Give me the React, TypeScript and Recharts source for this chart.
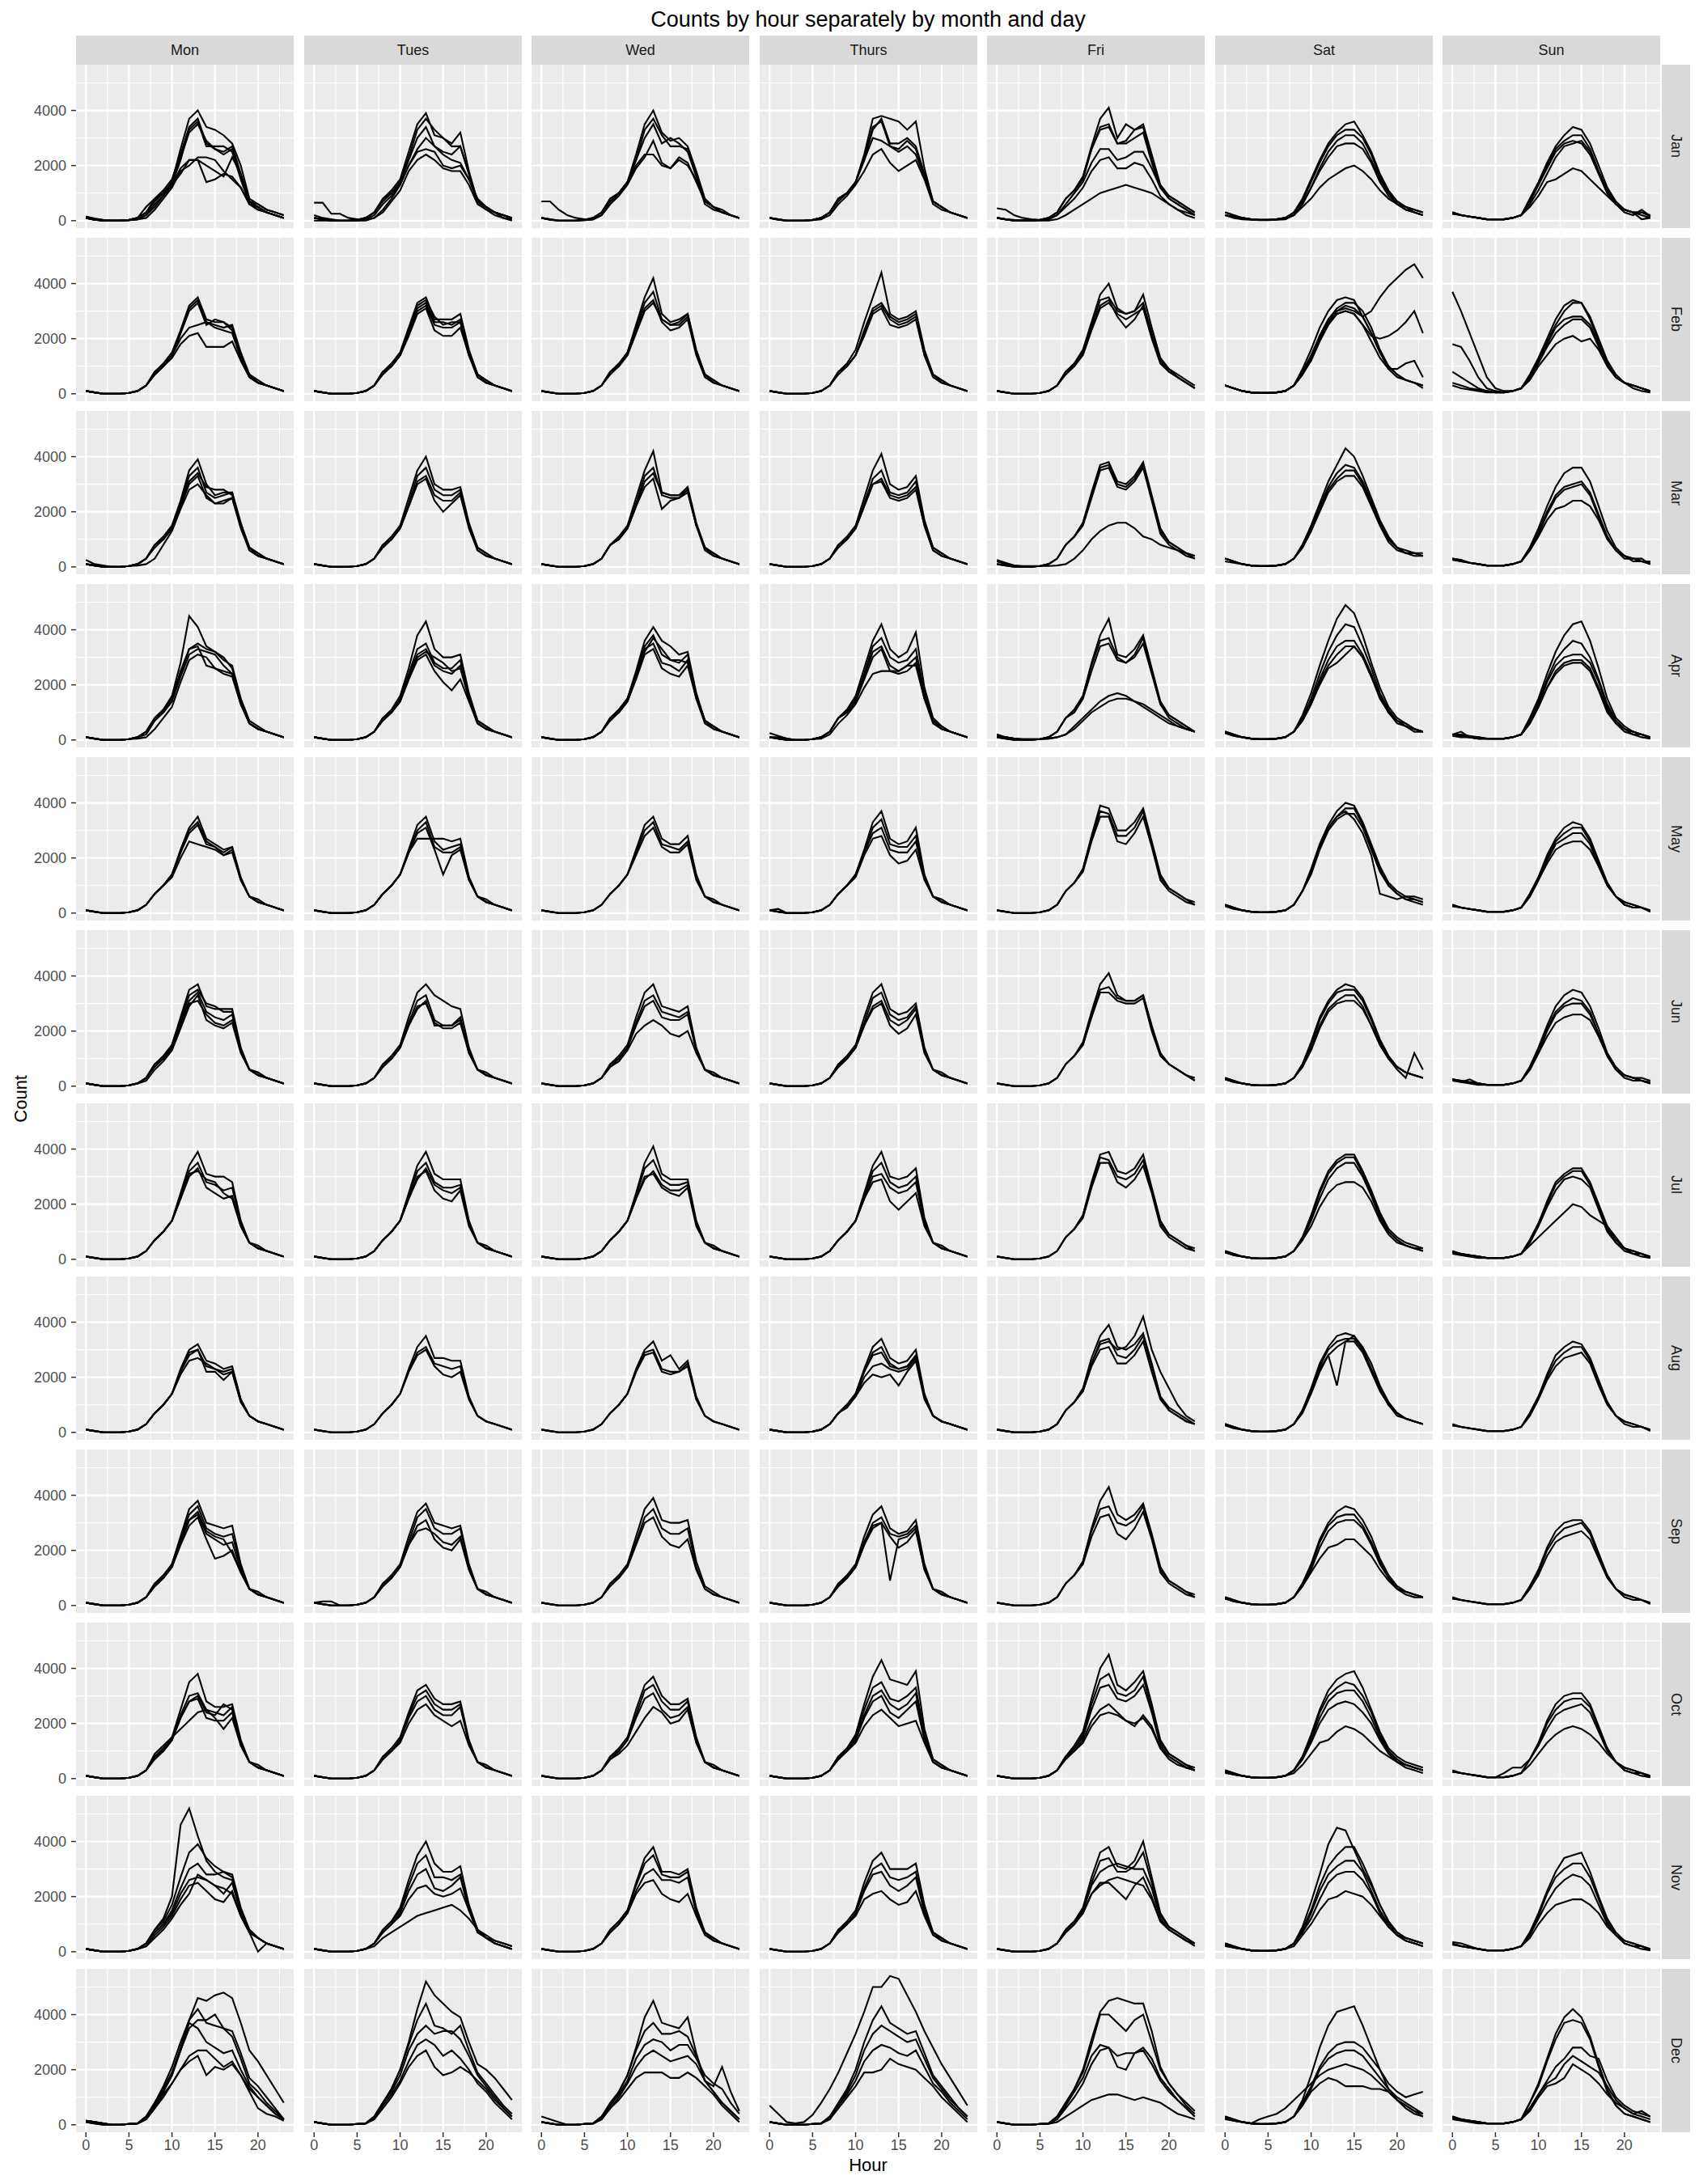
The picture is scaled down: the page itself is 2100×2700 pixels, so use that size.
import { CartesianGrid, Line, LineChart, XAxis, YAxis } from 'recharts';

const DAYS = ['Mon', 'Tues', 'Wed', 'Thurs', 'Fri', 'Sat', 'Sun'];
const MONTHS = ['Jan', 'Feb', 'Mar', 'Apr', 'May', 'Jun', 'Jul', 'Aug', 'Sep', 'Oct', 'Nov', 'Dec'];
const HOURS = [0, 1, 2, 3, 4, 5, 6, 7, 8, 9, 10, 11, 12, 13, 14, 15, 16, 17, 18, 19, 20, 21, 22, 23];
const X_TICKS = [0, 5, 10, 15, 20];
const X_MINOR = [2.5, 7.5, 12.5, 17.5, 22.5];
// y values are counts in hundreds
const Y_TICKS = [0, 20, 40];
const Y_MINOR = [10, 30, 50];

// hourly counts (hundreds), one list per date drawn; panels Mon..Sun
const JAN: number[][][] = [
  [
    [1.5, .8, .3, .1, .1, .3, 1, 3, 7, 10, 14, 26, 37, 40, 34, 33, 31, 28, 20, 8, 6, 4, 3, 2],
    [1.5, .5, .2, 0, 0, .3, 1, 5, 8, 11, 15, 24, 34, 37, 28, 26, 25, 27, 17, 7, 6, 4, 3, 2],
    [1, .5, .2, 0, 0, .3, 1, 3, 8, 10, 14, 23, 32, 35, 29, 26, 24, 26, 16, 7, 5, 3, 2, 1],
    [1, .3, .1, 0, 0, .2, 1, 3, 7, 10, 13, 22, 33, 36, 27, 27, 27, 25, 15, 6, 5, 3, 2, 1],
    [1, .3, 0, 0, 0, .2, .5, 2, 5, 9, 13, 17, 22, 22, 14, 15, 17, 16, 12, 6, 4, 3, 2, 1],
    [1, .3, 0, 0, 0, .2, .5, 1, 4, 8, 12, 18, 20, 23, 23, 22, 18, 15, 12, 6, 4, 3, 2, 1],
    [1, .3, 0, 0, 0, .2, .5, 2, 6, 9, 13, 19, 22, 22, 20, 18, 16, 23, 17, 7, 5, 3, 2, 1],
  ],
  [
    [1, .5, 0, 0, 0, .3, 1, 3, 8, 11, 15, 25, 35, 39, 31, 30, 28, 32, 18, 7, 5, 3, 2, 1],
    [1, .5, 0, 0, 0, .3, 1, 3, 7, 10, 14, 23, 33, 37, 33, 30, 27, 27, 17, 7, 5, 3, 2, 1],
    [6.5, 6.5, 2.5, 2.5, 1, .5, .5, 2, 6, 9, 13, 20, 25, 26, 25, 20, 19, 20, 15, 8, 5, 3, 2, 1],
    [2, 1, .5, 0, 0, 0, .5, 1, 4, 8, 13, 20, 26, 30, 27, 24, 22, 21, 15, 7, 4, 3, 1, .5],
    [1, .5, 0, 0, 0, .3, 1, 3, 8, 10, 14, 22, 30, 34, 27, 25, 24, 27, 17, 7, 5, 3, 2, 1],
    [0, 0, 0, 0, 0, 0, 0, 1, 3, 7, 11, 18, 22, 24, 22, 19, 18, 18, 13, 6, 4, 2, 1, 0],
  ],
  [
    [1, .5, 0, 0, 0, .3, 1, 3, 8, 10, 14, 24, 35, 40, 32, 29, 30, 27, 18, 8, 5, 4, 2, 1],
    [1, .5, 0, 0, 0, .3, 1, 3, 8, 10, 14, 22, 33, 37, 31, 27, 27, 26, 17, 7, 5, 3, 2, 1],
    [7, 7, 4, 2, 1, .5, .5, 2, 6, 10, 14, 20, 24, 24, 20, 19, 23, 21, 14, 7, 5, 3, 2, 1],
    [1, .3, 0, 0, 0, .2, .5, 2, 7, 10, 14, 22, 30, 35, 28, 30, 28, 25, 16, 6, 4, 3, 2, 1],
    [1, .3, 0, 0, 0, .2, .5, 2, 6, 9, 13, 19, 23, 29, 21, 19, 22, 20, 15, 7, 5, 3, 2, 1],
  ],
  [
    [1, .5, 0, 0, 0, .3, 1, 3, 8, 10, 14, 24, 37, 38, 37, 36, 33, 36, 19, 7, 5, 3, 2, 1],
    [1, .5, 0, 0, 0, .3, 1, 3, 8, 10, 14, 22, 33, 37, 28, 28, 30, 27, 17, 7, 5, 3, 2, 1],
    [1, .5, 0, 0, 0, .3, 1, 3, 8, 10, 14, 22, 30, 29, 27, 26, 29, 26, 16, 7, 5, 3, 2, 1],
    [1, .3, 0, 0, 0, .2, .5, 2, 6, 9, 13, 18, 24, 26, 21, 18, 20, 22, 15, 6, 4, 3, 2, 1],
    [1, .3, 0, 0, 0, .2, 1, 3, 7, 10, 14, 23, 34, 36, 27, 25, 27, 24, 16, 7, 5, 3, 2, 1],
  ],
  [
    [1, .5, 0, 0, 0, .3, 1, 3, 8, 11, 16, 27, 37, 41, 30, 35, 33, 35, 24, 13, 9, 7, 5, 3],
    [1, .5, 0, 0, 0, .3, 1, 3, 8, 11, 16, 26, 34, 35, 28, 29, 33, 34, 22, 12, 9, 7, 5, 3],
    [4.5, 4, 2, 1, .5, .3, .5, 2, 6, 10, 14, 21, 26, 26, 22, 23, 25, 25, 19, 12, 8, 6, 4, 2],
    [1, .5, 0, 0, 0, .2, .5, 2, 5, 8, 12, 18, 22, 23, 19, 19, 21, 20, 15, 9, 6, 4, 2, 1],
    [1, .5, .3, .2, 0, 0, 0, .5, 2, 4, 6, 8, 10, 11, 12, 13, 12, 11, 10, 8, 6, 4, 3, 2],
    [1, .5, 0, 0, 0, .3, 1, 3, 8, 11, 15, 26, 33, 34, 28, 28, 30, 32, 21, 12, 8, 6, 4, 2],
  ],
  [
    [3, 2, 1, .5, .3, .3, .5, 1, 3, 8, 15, 22, 28, 32, 35, 36, 31, 25, 17, 11, 7, 5, 4, 3],
    [3, 2, 1, .5, .3, .3, .5, 1, 3, 7, 14, 21, 27, 31, 33, 33, 30, 24, 16, 10, 7, 5, 4, 3],
    [2, 1.5, 1, .5, .3, .3, .5, 1, 2, 6, 12, 19, 25, 29, 31, 31, 28, 22, 15, 10, 6, 5, 3, 2],
    [2, 1.5, 1, .5, .3, .3, .5, 1, 2, 6, 12, 18, 23, 27, 28, 28, 26, 21, 14, 9, 6, 4, 3, 2],
    [2, 1, .5, .3, .2, .2, .3, .5, 2, 5, 8, 12, 15, 17, 19, 20, 18, 15, 11, 8, 6, 4, 3, 2],
  ],
  [
    [3, 2, 1.5, 1, .5, .5, .5, 1, 2, 8, 14, 21, 27, 31, 34, 33, 28, 20, 12, 7, 4, 3, 3, 2],
    [3, 2, 1.5, 1, .5, .5, .5, 1, 2, 7, 13, 20, 26, 29, 31, 31, 26, 18, 11, 6, 4, 3, 3, 1.5],
    [2.5, 2, 1.5, 1, .5, .5, .5, 1, 2, 7, 13, 19, 25, 28, 29, 28, 24, 17, 10, 6, 4, 3, .5, 1],
    [3, 2, 1.5, 1, .5, .5, .5, 1, 2, 6, 11, 17, 23, 27, 28, 29, 25, 17, 10, 6, 3, 2, 4, 1.5],
    [2.5, 2, 1.5, 1, .5, .5, .5, 1, 2, 5, 9, 14, 15, 17, 19, 18, 15, 12, 9, 6, 4, 3, 2, 1],
  ],
];

const FEB: number[][][] = [
  [
    [1, .5, 0, 0, 0, .3, 1, 3, 8, 11, 15, 23, 32, 35, 27, 26, 26, 24, 14, 7, 4, 3, 2, 1],
    [1, .5, 0, 0, 0, .3, 1, 3, 8, 10, 14, 22, 31, 34, 26, 25, 24, 25, 15, 7, 5, 3, 2, 1],
    [1, .5, 0, 0, 0, .3, 1, 3, 7, 10, 14, 22, 30, 33, 25, 27, 26, 23, 13, 6, 4, 3, 2, 1],
    [1, .5, 0, 0, 0, .3, 1, 3, 7, 10, 14, 20, 24, 25, 26, 24, 23, 22, 13, 6, 4, 3, 2, 1],
    [1, .5, 0, 0, 0, .3, 1, 3, 7, 10, 13, 18, 21, 22, 17, 17, 17, 19, 12, 6, 4, 3, 2, 1],
  ],
  [
    [1, .5, 0, 0, 0, .3, 1, 3, 8, 11, 15, 24, 33, 35, 27, 27, 27, 29, 16, 7, 5, 3, 2, 1],
    [1, .5, 0, 0, 0, .3, 1, 3, 8, 10, 14, 22, 31, 33, 26, 26, 25, 27, 15, 7, 4, 3, 2, 1],
    [1, .5, 0, 0, 0, .3, 1, 3, 8, 10, 14, 22, 30, 32, 25, 24, 24, 26, 14, 6, 4, 3, 2, 1],
    [1, .5, 0, 0, 0, .3, 1, 3, 7, 10, 14, 21, 29, 31, 23, 21, 21, 24, 14, 6, 4, 3, 2, 1],
    [1, .5, 0, 0, 0, .3, 1, 3, 8, 10, 14, 23, 32, 34, 28, 25, 26, 26, 15, 7, 5, 3, 2, 1],
  ],
  [
    [1, .5, 0, 0, 0, .3, 1, 3, 8, 11, 15, 25, 35, 42, 29, 26, 27, 29, 16, 7, 5, 3, 2, 1],
    [1, .5, 0, 0, 0, .3, 1, 3, 8, 10, 15, 24, 33, 37, 27, 25, 26, 29, 15, 7, 5, 3, 2, 1],
    [1, .5, 0, 0, 0, .3, 1, 3, 7, 10, 14, 23, 31, 34, 26, 23, 24, 27, 14, 6, 4, 3, 2, 1],
    [1, .5, 0, 0, 0, .3, 1, 3, 8, 10, 14, 22, 30, 33, 27, 25, 25, 28, 15, 7, 4, 3, 2, 1],
  ],
  [
    [1, .5, 0, 0, 0, .3, 1, 3, 8, 11, 16, 26, 35, 44, 29, 27, 28, 30, 16, 7, 5, 3, 2, 1],
    [1, .5, 0, 0, 0, .3, 1, 3, 8, 10, 14, 23, 31, 33, 28, 26, 27, 29, 15, 7, 5, 3, 2, 1],
    [1, .5, 0, 0, 0, .3, 1, 3, 8, 10, 14, 22, 30, 32, 27, 25, 26, 28, 14, 7, 4, 3, 2, 1],
    [1, .5, 0, 0, 0, .3, 1, 3, 7, 10, 14, 21, 29, 31, 25, 24, 25, 27, 14, 6, 4, 3, 2, 1],
  ],
  [
    [1, .5, 0, 0, 0, .3, 1, 3, 8, 11, 16, 26, 36, 40, 31, 29, 30, 36, 24, 13, 9, 7, 5, 3],
    [1, .5, 0, 0, 0, .3, 1, 3, 8, 11, 15, 25, 34, 35, 30, 29, 30, 33, 22, 12, 9, 6, 4, 2],
    [1, .5, 0, 0, 0, .3, 1, 3, 8, 10, 15, 24, 32, 34, 28, 24, 27, 32, 21, 12, 8, 6, 4, 2],
    [1, .5, 0, 0, 0, .3, 1, 3, 7, 10, 14, 23, 31, 33, 29, 27, 29, 31, 20, 11, 8, 6, 4, 2],
  ],
  [
    [3, 2, 1, .5, .3, .3, .5, 1, 3, 8, 14, 21, 27, 31, 33, 33, 30, 24, 16, 10, 7, 5, 4, 3],
    [3, 2, 1, .5, .3, .3, .5, 1, 3, 7, 13, 20, 26, 30, 32, 31, 28, 22, 15, 9, 6, 5, 4, 3],
    [3, 2, 1, .5, .3, .3, .5, 1, 3, 9, 16, 24, 30, 34, 35, 34, 28, 22, 15, 10, 7, 5, 4, 2],
    [3, 2, 1, .5, .3, .3, .5, 1, 3, 7, 13, 21, 27, 30, 31, 30, 28, 30, 35, 39, 42, 45, 47, 42],
    [3, 2, 1, .5, .3, .3, .5, 1, 3, 7, 13, 20, 26, 29, 30, 29, 25, 21, 20, 21, 23, 26, 30, 22],
    [3, 2, 1, .5, .3, .3, .5, 1, 3, 7, 12, 19, 25, 29, 30, 29, 25, 19, 13, 9, 9, 11, 12, 6],
  ],
  [
    [37, 30, 22, 14, 6, 2, 1, 1, 2, 7, 13, 20, 27, 32, 34, 33, 28, 20, 12, 7, 4, 3, 2, 1],
    [18, 17, 12, 6, 2, 1, .5, 1, 2, 6, 12, 18, 24, 27, 28, 28, 25, 18, 11, 6, 4, 3, 2, 1],
    [8, 6, 4, 2, 1, .5, .5, 1, 2, 6, 11, 17, 22, 25, 27, 27, 24, 17, 10, 6, 4, 3, 2, 1],
    [4, 3, 2, 1.5, 1, .5, .5, 1, 2, 6, 12, 19, 25, 30, 33, 33, 27, 19, 11, 6, 4, 3, 2, 1],
    [3, 2, 1.5, 1, .5, .5, .5, 1, 2, 5, 10, 14, 18, 20, 21, 19, 20, 16, 10, 6, 4, 2, 1, .5],
  ],
];

const MAR: number[][][] = [
  [
    [1, .5, 0, 0, 0, .3, 1, 3, 8, 11, 15, 24, 35, 39, 30, 26, 27, 27, 16, 7, 5, 3, 2, 1],
    [1, .5, 0, 0, 0, .3, 1, 3, 8, 10, 14, 23, 33, 36, 27, 25, 26, 27, 15, 7, 5, 3, 2, 1],
    [2.5, 1, .5, 0, 0, .3, 1, 3, 7, 10, 14, 22, 31, 34, 29, 28, 28, 26, 15, 7, 4, 3, 2, 1],
    [1, .5, 0, 0, 0, .3, .5, 1, 3, 8, 13, 21, 28, 30, 26, 23, 23, 25, 15, 6, 4, 3, 2, 1],
    [1, .5, 0, 0, 0, .3, 1, 3, 8, 10, 14, 22, 30, 33, 25, 23, 24, 25, 14, 6, 4, 3, 2, 1],
  ],
  [
    [1, .5, 0, 0, 0, .3, 1, 3, 8, 11, 15, 25, 35, 40, 30, 28, 28, 29, 16, 7, 5, 3, 2, 1],
    [1, .5, 0, 0, 0, .3, 1, 3, 8, 10, 14, 23, 33, 36, 28, 26, 26, 28, 15, 7, 5, 3, 2, 1],
    [1, .5, 0, 0, 0, .3, 1, 3, 8, 10, 14, 22, 31, 33, 26, 24, 24, 27, 15, 6, 4, 3, 2, 1],
    [1, .5, 0, 0, 0, .3, 1, 3, 7, 10, 14, 22, 30, 32, 24, 20, 23, 26, 14, 6, 4, 3, 2, 1],
  ],
  [
    [1, .5, 0, 0, 0, .3, 1, 3, 8, 11, 15, 25, 35, 42, 27, 26, 26, 29, 16, 7, 5, 3, 2, 1],
    [1, .5, 0, 0, 0, .3, 1, 3, 8, 10, 14, 23, 33, 36, 26, 25, 25, 28, 15, 7, 5, 3, 2, 1],
    [1, .5, 0, 0, 0, .3, 1, 3, 8, 10, 14, 22, 29, 32, 21, 24, 25, 27, 15, 6, 4, 3, 2, 1],
    [1, .5, 0, 0, 0, .3, 1, 3, 8, 10, 14, 22, 31, 34, 27, 26, 26, 28, 15, 7, 4, 3, 2, 1],
  ],
  [
    [1, .5, 0, 0, 0, .3, 1, 3, 8, 11, 15, 25, 35, 41, 30, 28, 29, 33, 17, 7, 5, 3, 2, 1],
    [1, .5, 0, 0, 0, .3, 1, 3, 8, 10, 14, 23, 32, 35, 27, 26, 27, 31, 16, 7, 5, 3, 2, 1],
    [1, .5, 0, 0, 0, .3, 1, 3, 8, 10, 14, 22, 30, 32, 26, 25, 26, 29, 15, 6, 4, 3, 2, 1],
    [1, .5, 0, 0, 0, .3, 1, 3, 7, 10, 14, 22, 30, 31, 25, 24, 25, 28, 15, 6, 4, 3, 2, 1],
  ],
  [
    [2.5, 1.5, .5, 0, 0, .3, 1, 3, 8, 11, 16, 27, 37, 38, 31, 30, 33, 38, 26, 14, 9, 7, 5, 4],
    [1, .5, 0, 0, 0, .3, 1, 3, 8, 11, 16, 26, 36, 37, 30, 29, 32, 37, 25, 13, 9, 7, 5, 3],
    [1, .5, 0, 0, 0, .3, 1, 3, 8, 11, 15, 25, 35, 36, 29, 28, 31, 36, 24, 12, 8, 6, 4, 3],
    [2, 1, .5, .3, .3, .3, .3, .5, 1, 3, 6, 10, 13, 15, 16, 16, 14, 11, 10, 8, 7, 6, 5, 4],
  ],
  [
    [3, 2, 1, .5, .3, .3, .5, 1, 3, 8, 15, 23, 31, 37, 43, 40, 33, 25, 17, 11, 7, 6, 5, 5],
    [3, 2, 1, .5, .3, .3, .5, 1, 3, 8, 14, 22, 29, 34, 37, 36, 31, 24, 16, 10, 7, 5, 5, 4],
    [3, 2, 1, .5, .3, .3, .5, 1, 3, 7, 13, 21, 28, 32, 35, 35, 30, 23, 16, 10, 7, 5, 5, 4],
    [2, 1.5, 1, .5, .3, .3, .5, 1, 3, 7, 13, 20, 27, 31, 33, 33, 29, 22, 15, 9, 6, 5, 4, 4],
  ],
  [
    [3, 2.5, 1.5, 1, .5, .5, .5, 1, 2, 7, 14, 22, 29, 34, 36, 36, 31, 22, 13, 7, 4, 3, 2, 2],
    [3, 2.5, 1.5, 1, .5, .5, .5, 1, 2, 7, 13, 20, 26, 29, 30, 31, 27, 19, 11, 6, 4, 3, 2, 1.5],
    [2.5, 2, 1.5, 1, .5, .5, .5, 1, 2, 6, 12, 19, 25, 28, 29, 30, 26, 18, 11, 6, 3, 3, 3, 1],
    [3, 2, 1.5, 1, .5, .5, .5, 1, 2, 6, 11, 17, 21, 22, 24, 24, 22, 17, 10, 6, 4, 2, 2, 1],
  ],
];

const APR: number[][][] = [
  [
    [1, .5, 0, 0, 0, .3, 1, 3, 8, 11, 16, 28, 45, 41, 34, 32, 29, 27, 15, 7, 5, 3, 2, 1],
    [1, .5, 0, 0, 0, .3, 1, 3, 8, 11, 15, 25, 33, 35, 33, 32, 30, 26, 14, 6, 4, 3, 2, 1],
    [1, .5, 0, 0, 0, .3, 1, 2, 7, 10, 14, 23, 31, 33, 32, 31, 27, 24, 13, 6, 4, 3, 2, 1],
    [1, .5, 0, 0, 0, .3, .5, 1, 4, 8, 12, 21, 29, 31, 30, 26, 24, 23, 13, 6, 4, 3, 2, 1],
    [1, .5, 0, 0, 0, .3, 1, 3, 8, 10, 14, 24, 33, 34, 27, 26, 25, 24, 14, 6, 4, 3, 2, 1],
  ],
  [
    [1, .5, 0, 0, 0, .3, 1, 3, 8, 11, 16, 26, 38, 43, 33, 30, 30, 31, 17, 7, 5, 3, 2, 1],
    [1, .5, 0, 0, 0, .3, 1, 3, 8, 10, 15, 24, 33, 35, 28, 26, 26, 29, 16, 7, 5, 3, 2, 1],
    [1, .5, 0, 0, 0, .3, 1, 3, 8, 10, 14, 23, 31, 33, 27, 25, 24, 27, 15, 6, 4, 3, 2, 1],
    [1, .5, 0, 0, 0, .3, 1, 3, 7, 10, 14, 22, 29, 31, 25, 21, 18, 22, 14, 6, 4, 3, 2, 1],
    [1, .5, 0, 0, 0, .3, 1, 3, 8, 10, 14, 22, 30, 32, 30, 28, 25, 26, 15, 6, 4, 3, 2, 1],
  ],
  [
    [1, .5, 0, 0, 0, .3, 1, 3, 8, 11, 15, 25, 36, 41, 36, 34, 31, 32, 17, 7, 5, 3, 2, 1],
    [1, .5, 0, 0, 0, .3, 1, 3, 8, 11, 15, 24, 34, 38, 31, 29, 28, 31, 16, 7, 5, 3, 2, 1],
    [1, .5, 0, 0, 0, .3, 1, 3, 8, 10, 14, 23, 33, 35, 28, 27, 25, 29, 15, 7, 4, 3, 2, 1],
    [1, .5, 0, 0, 0, .3, 1, 3, 7, 10, 14, 22, 31, 33, 26, 24, 23, 27, 15, 6, 4, 3, 2, 1],
    [1, .5, 0, 0, 0, .3, 1, 3, 8, 10, 14, 23, 32, 37, 33, 29, 29, 28, 16, 7, 5, 3, 2, 1],
  ],
  [
    [2.5, 1.5, .5, 0, 0, .3, 1, 3, 8, 11, 16, 26, 36, 42, 33, 30, 32, 39, 19, 8, 5, 3, 2, 1],
    [1, .5, 0, 0, 0, .3, 1, 3, 8, 11, 15, 24, 34, 37, 30, 28, 29, 33, 17, 7, 5, 3, 2, 1],
    [1, .5, 0, 0, 0, .3, 1, 3, 8, 10, 14, 23, 32, 34, 27, 25, 27, 30, 16, 7, 4, 3, 2, 1],
    [1, 1, .5, 0, 0, .3, .5, 2, 6, 9, 13, 19, 24, 25, 25, 25, 27, 27, 15, 7, 4, 3, 2, 1],
    [1, .5, 0, 0, 0, .3, 1, 3, 8, 10, 14, 22, 30, 33, 25, 24, 25, 28, 15, 6, 4, 3, 2, 1],
  ],
  [
    [2, 1, .5, 0, 0, .3, 1, 3, 8, 11, 16, 28, 38, 44, 31, 30, 33, 38, 26, 14, 9, 7, 5, 3],
    [1, .5, 0, 0, 0, .3, 1, 3, 8, 11, 16, 27, 36, 37, 30, 28, 31, 37, 25, 13, 9, 7, 5, 3],
    [1, .5, 0, 0, 0, .3, 1, 3, 8, 10, 15, 25, 34, 35, 29, 28, 30, 35, 24, 13, 8, 6, 4, 3],
    [2, 1, .5, .3, .3, .3, .5, 1, 2, 5, 8, 11, 14, 16, 17, 16, 14, 12, 10, 8, 6, 5, 4, 3],
    [1.5, 1, .5, .3, .3, .3, .5, 1, 2, 4, 7, 10, 12, 14, 15, 15, 14, 13, 11, 9, 7, 5, 4, 3],
  ],
  [
    [3, 2, 1, .5, .3, .3, .5, 1, 3, 9, 17, 27, 36, 44, 49, 46, 38, 28, 19, 12, 8, 6, 4, 3],
    [3, 2, 1, .5, .3, .3, .5, 1, 3, 8, 15, 24, 32, 38, 42, 41, 34, 26, 17, 11, 7, 6, 4, 3],
    [3, 2, 1, .5, .3, .3, .5, 1, 3, 8, 14, 22, 29, 34, 36, 36, 31, 24, 16, 10, 7, 5, 4, 3],
    [2.5, 1.5, 1, .5, .3, .3, .5, 1, 3, 7, 13, 20, 26, 28, 31, 34, 30, 23, 15, 10, 6, 5, 4, 3],
    [2.5, 1.5, 1, .5, .3, .3, .5, 1, 3, 7, 13, 21, 27, 31, 34, 34, 30, 23, 16, 10, 7, 5, 3, 3],
  ],
  [
    [2, 2, 1.5, 1, .5, .5, .5, 1, 2, 8, 15, 24, 32, 38, 42, 43, 36, 26, 15, 8, 5, 3, 2, 1],
    [2, 1.5, 1, 1, .5, .5, .5, 1, 2, 7, 14, 22, 29, 33, 36, 35, 30, 22, 13, 7, 4, 3, 2, 1],
    [2, 3, 1, .5, .5, .5, .5, 1, 2, 7, 13, 21, 27, 30, 31, 31, 28, 21, 12, 7, 4, 3, 2, 1],
    [2, 1.5, 1, .5, .5, .5, .5, 1, 2, 6, 12, 19, 25, 28, 29, 29, 26, 19, 11, 6, 4, 2, 2, 1],
    [1.5, 1, 1, .5, .5, .5, .5, 1, 2, 6, 12, 19, 24, 27, 28, 28, 25, 18, 10, 6, 3, 2, 1, .5],
  ],
];

const MAY: number[][][] = [
  [
    [1, .5, 0, 0, 0, .3, 1, 3, 7, 10, 14, 23, 31, 35, 27, 25, 23, 24, 13, 6, 5, 3, 2, 1],
    [1, .5, 0, 0, 0, .3, 1, 3, 7, 10, 14, 22, 30, 33, 26, 24, 22, 24, 12, 6, 4, 3, 2, 1],
    [1, .5, 0, 0, 0, .3, 1, 3, 7, 10, 14, 22, 29, 32, 25, 24, 21, 23, 12, 6, 4, 3, 2, 1],
    [1, .5, 0, 0, 0, .3, 1, 3, 7, 10, 13, 20, 26, 25, 24, 23, 21, 22, 12, 6, 4, 3, 2, 1],
  ],
  [
    [1, .5, 0, 0, 0, .3, 1, 3, 7, 10, 14, 23, 32, 35, 26, 23, 24, 25, 13, 6, 5, 3, 2, 1],
    [1, .5, 0, 0, 0, .3, 1, 3, 7, 10, 14, 22, 30, 33, 24, 22, 22, 24, 12, 6, 4, 3, 2, 1],
    [1, .5, 0, 0, 0, .3, 1, 3, 7, 10, 14, 22, 27, 27, 27, 27, 26, 27, 13, 6, 4, 3, 2, 1],
    [1, .5, 0, 0, 0, .3, 1, 3, 7, 10, 14, 22, 29, 31, 23, 14, 21, 23, 12, 6, 4, 3, 2, 1],
  ],
  [
    [1, .5, 0, 0, 0, .3, 1, 3, 7, 10, 14, 23, 32, 35, 27, 25, 25, 28, 14, 6, 5, 3, 2, 1],
    [1, .5, 0, 0, 0, .3, 1, 3, 7, 10, 14, 22, 30, 33, 25, 24, 23, 26, 13, 6, 4, 3, 2, 1],
    [1, .5, 0, 0, 0, .3, 1, 3, 7, 10, 14, 21, 28, 31, 24, 22, 22, 25, 12, 6, 4, 3, 2, 1],
  ],
  [
    [1, 1.5, 0, 0, 0, .3, 1, 3, 7, 10, 14, 23, 33, 37, 27, 25, 26, 31, 14, 6, 5, 3, 2, 1],
    [1, .5, 0, 0, 0, .3, 1, 3, 7, 10, 14, 22, 31, 34, 25, 24, 24, 28, 13, 6, 4, 3, 2, 1],
    [1, .5, 0, 0, 0, .3, 1, 3, 7, 10, 14, 22, 29, 31, 23, 22, 22, 26, 13, 6, 4, 3, 2, 1],
    [1, .5, 0, 0, 0, .3, 1, 3, 7, 10, 13, 21, 27, 28, 21, 18, 19, 23, 12, 6, 4, 3, 2, 1],
  ],
  [
    [1, .5, 0, 0, 0, .3, 1, 3, 8, 11, 16, 28, 39, 38, 30, 30, 33, 38, 26, 14, 9, 7, 5, 4],
    [1, .5, 0, 0, 0, .3, 1, 3, 8, 11, 16, 27, 37, 36, 28, 28, 31, 37, 25, 13, 9, 7, 5, 3],
    [1, .5, 0, 0, 0, .3, 1, 3, 8, 11, 15, 26, 35, 35, 26, 25, 29, 35, 24, 12, 8, 6, 4, 3],
  ],
  [
    [3, 2, 1, .5, .3, .3, .5, 1, 3, 8, 16, 25, 32, 37, 40, 39, 33, 25, 17, 11, 8, 6, 5, 4],
    [3, 2, 1, .5, .3, .3, .5, 1, 3, 8, 15, 24, 31, 35, 38, 38, 32, 24, 16, 10, 7, 5, 5, 4],
    [2.5, 1.5, 1, .5, .3, .3, .5, 1, 3, 8, 14, 23, 30, 34, 36, 36, 31, 23, 15, 10, 7, 5, 4, 3],
    [3, 2, 1, .5, .3, .3, .5, 1, 3, 8, 15, 24, 31, 35, 37, 34, 29, 21, 7, 6, 5, 6, 6, 5],
  ],
  [
    [3, 2, 1.5, 1, .5, .5, .5, 1, 2, 7, 13, 21, 27, 31, 33, 32, 27, 19, 11, 6, 4, 3, 2, 1],
    [2.5, 2, 1.5, 1, .5, .5, .5, 1, 2, 7, 13, 20, 26, 29, 31, 31, 26, 18, 11, 6, 4, 3, 2, 1],
    [2.5, 2, 1.5, 1, .5, .5, .5, 1, 2, 6, 12, 19, 25, 27, 29, 29, 25, 17, 10, 6, 3, 2, 2, .5],
    [3, 2, 1.5, 1, .5, .5, .5, 1, 2, 6, 12, 18, 23, 25, 26, 26, 23, 17, 10, 6, 3, 2, 2, .5],
  ],
];

const JUN: number[][][] = [
  [
    [1, .5, 0, 0, 0, .3, 1, 3, 8, 11, 15, 25, 35, 37, 29, 28, 28, 28, 14, 6, 5, 3, 2, 1],
    [1, .5, 0, 0, 0, .3, 1, 3, 8, 10, 15, 24, 33, 35, 30, 29, 27, 27, 13, 6, 5, 3, 2, 1],
    [1, .5, 0, 0, 0, .3, 1, 3, 7, 10, 14, 22, 30, 31, 26, 23, 22, 24, 13, 6, 4, 3, 2, 1],
    [1, .5, 0, 0, 0, .3, 1, 2, 6, 9, 13, 21, 29, 33, 24, 22, 21, 23, 12, 6, 4, 3, 2, 1],
    [1, .5, 0, 0, 0, .3, 1, 3, 8, 10, 14, 23, 31, 34, 27, 25, 24, 26, 13, 6, 4, 3, 2, 1],
  ],
  [
    [1, .5, 0, 0, 0, .3, 1, 3, 8, 11, 15, 25, 34, 37, 33, 31, 29, 28, 14, 6, 5, 3, 2, 1],
    [1, .5, 0, 0, 0, .3, 1, 3, 8, 10, 14, 23, 31, 33, 24, 22, 22, 24, 13, 6, 4, 3, 2, 1],
    [1, .5, 0, 0, 0, .3, 1, 3, 7, 10, 14, 22, 29, 30, 23, 21, 21, 23, 12, 6, 4, 3, 2, 1],
    [1, .5, 0, 0, 0, .3, 1, 3, 7, 10, 14, 22, 28, 31, 22, 22, 22, 25, 12, 6, 4, 3, 2, 1],
  ],
  [
    [1, .5, 0, 0, 0, .3, 1, 3, 8, 11, 15, 25, 34, 37, 29, 28, 27, 29, 14, 6, 5, 3, 2, 1],
    [1, .5, 0, 0, 0, .3, 1, 3, 8, 10, 14, 23, 31, 33, 27, 26, 25, 27, 13, 6, 4, 3, 2, 1],
    [1, .5, 0, 0, 0, .3, 1, 3, 7, 10, 14, 22, 29, 31, 25, 24, 24, 26, 13, 6, 4, 3, 2, 1],
    [1, .5, 0, 0, 0, .3, 1, 3, 7, 9, 13, 19, 22, 24, 22, 19, 18, 20, 12, 6, 4, 3, 2, 1],
  ],
  [
    [1, .5, 0, 0, 0, .3, 1, 3, 8, 11, 15, 25, 34, 37, 28, 26, 27, 30, 14, 6, 5, 3, 2, 1],
    [1, .5, 0, 0, 0, .3, 1, 3, 8, 10, 14, 23, 32, 34, 26, 24, 25, 29, 13, 6, 4, 3, 2, 1],
    [1, .5, 0, 0, 0, .3, 1, 3, 7, 10, 14, 22, 29, 31, 24, 22, 24, 28, 13, 6, 4, 3, 2, 1],
    [1, .5, 0, 0, 0, .3, 1, 3, 7, 10, 14, 22, 28, 30, 22, 19, 21, 26, 12, 6, 4, 3, 2, 1],
  ],
  [
    [1, .5, 0, 0, 0, .3, 1, 3, 8, 11, 16, 27, 37, 41, 33, 31, 31, 33, 22, 12, 8, 6, 4, 3],
    [1, .5, 0, 0, 0, .3, 1, 3, 8, 11, 15, 26, 35, 36, 32, 31, 31, 33, 21, 12, 8, 6, 4, 2],
    [1, .5, 0, 0, 0, .3, 1, 3, 8, 11, 15, 25, 34, 34, 31, 30, 30, 32, 20, 11, 8, 6, 4, 2],
  ],
  [
    [3, 2, 1, .5, .3, .3, .5, 1, 3, 8, 16, 25, 31, 35, 37, 36, 32, 25, 17, 11, 7, 5, 4, 3],
    [3, 2, 1, .5, .3, .3, .5, 1, 3, 8, 15, 24, 30, 34, 35, 35, 31, 24, 16, 10, 7, 5, 4, 3],
    [2.5, 1.5, 1, .5, .3, .3, .5, 1, 3, 7, 14, 22, 28, 31, 33, 33, 29, 22, 15, 10, 7, 5, 4, 3],
    [2.5, 1.5, 1, .5, .3, .3, .5, 1, 3, 7, 13, 21, 27, 30, 31, 31, 28, 22, 15, 10, 6, 3, 12, 6],
  ],
  [
    [2.5, 2, 1.5, 1, .5, .5, .5, 1, 2, 7, 14, 22, 29, 33, 35, 34, 29, 21, 12, 7, 4, 3, 2, 1],
    [2.5, 2, 1.5, 1, .5, .5, .5, 1, 2, 7, 13, 21, 27, 30, 32, 31, 27, 19, 11, 6, 4, 3, 2, 1.5],
    [2.5, 1.5, 2.5, 1, .5, .5, .5, 1, 2, 6, 12, 20, 26, 29, 30, 30, 26, 19, 11, 6, 4, 3, 3, 2],
    [2, 1.5, 1, .5, .5, .5, .5, 1, 2, 6, 12, 18, 23, 25, 26, 26, 24, 18, 11, 6, 3, 2, 2, 1],
  ],
];

const JUL: number[][][] = [
  [
    [1, .5, 0, 0, 0, .3, 1, 3, 7, 10, 14, 24, 34, 39, 31, 30, 30, 28, 14, 6, 5, 3, 2, 1],
    [1, .5, 0, 0, 0, .3, 1, 3, 7, 10, 14, 23, 32, 35, 28, 27, 25, 26, 13, 6, 4, 3, 2, 1],
    [1, .5, 0, 0, 0, .3, 1, 3, 7, 10, 14, 22, 30, 33, 26, 24, 22, 23, 12, 6, 4, 3, 2, 1],
    [1, .5, 0, 0, 0, .3, 1, 3, 7, 10, 14, 22, 31, 32, 29, 28, 24, 22, 12, 6, 4, 3, 2, 1],
  ],
  [
    [1, .5, 0, 0, 0, .3, 1, 3, 7, 10, 14, 24, 34, 39, 31, 29, 29, 29, 14, 6, 5, 3, 2, 1],
    [1, .5, 0, 0, 0, .3, 1, 3, 7, 10, 14, 23, 32, 35, 28, 26, 26, 27, 13, 6, 4, 3, 2, 1],
    [1, .5, 0, 0, 0, .3, 1, 3, 7, 10, 14, 22, 30, 32, 25, 22, 21, 25, 12, 6, 4, 3, 2, 1],
    [1, .5, 0, 0, 0, .3, 1, 3, 7, 10, 14, 22, 29, 33, 27, 25, 24, 26, 13, 6, 4, 3, 2, 1],
  ],
  [
    [1, .5, 0, 0, 0, .3, 1, 3, 7, 10, 14, 24, 35, 41, 31, 29, 29, 29, 14, 6, 5, 3, 2, 1],
    [1, .5, 0, 0, 0, .3, 1, 3, 7, 10, 14, 23, 33, 36, 29, 27, 27, 28, 13, 6, 4, 3, 2, 1],
    [1, .5, 0, 0, 0, .3, 1, 3, 7, 10, 14, 22, 30, 31, 26, 24, 23, 26, 12, 6, 4, 3, 2, 1],
    [1, .5, 0, 0, 0, .3, 1, 3, 7, 10, 14, 22, 29, 32, 27, 25, 25, 27, 13, 6, 4, 3, 2, 1],
  ],
  [
    [1, .5, 0, 0, 0, .3, 1, 3, 7, 10, 14, 24, 34, 39, 30, 29, 30, 33, 15, 6, 5, 3, 2, 1],
    [1, .5, 0, 0, 0, .3, 1, 3, 7, 10, 14, 23, 32, 35, 28, 26, 27, 30, 14, 6, 4, 3, 2, 1],
    [1, .5, 0, 0, 0, .3, 1, 3, 7, 10, 14, 22, 30, 31, 26, 24, 25, 28, 13, 6, 4, 3, 2, 1],
    [1, .5, 0, 0, 0, .3, 1, 3, 7, 10, 14, 22, 28, 29, 21, 18, 21, 24, 12, 6, 4, 3, 2, 1],
  ],
  [
    [1, .5, 0, 0, 0, .3, 1, 3, 8, 11, 16, 28, 38, 39, 32, 31, 33, 38, 26, 14, 9, 7, 5, 4],
    [1, .5, 0, 0, 0, .3, 1, 3, 8, 11, 16, 27, 37, 36, 30, 29, 31, 36, 25, 13, 9, 7, 5, 3],
    [1, .5, 0, 0, 0, .3, 1, 3, 8, 11, 15, 26, 35, 35, 28, 26, 29, 34, 24, 12, 8, 6, 4, 3],
  ],
  [
    [3, 2, 1, .5, .3, .3, .5, 1, 3, 8, 16, 25, 32, 36, 38, 38, 32, 25, 17, 11, 8, 6, 5, 4],
    [3, 2, 1, .5, .3, .3, .5, 1, 3, 8, 15, 24, 31, 35, 37, 37, 31, 24, 16, 10, 7, 5, 4, 4],
    [2.5, 1.5, 1, .5, .3, .3, .5, 1, 3, 7, 14, 22, 29, 33, 35, 35, 30, 23, 15, 10, 7, 5, 4, 3],
    [2.5, 1.5, 1, .5, .3, .3, .5, 1, 3, 7, 12, 19, 24, 27, 28, 28, 26, 21, 14, 9, 6, 5, 4, 3],
  ],
  [
    [3, 2, 1.5, 1, .5, .5, .5, 1, 2, 7, 13, 21, 28, 31, 33, 33, 28, 20, 12, 7, 4, 3, 2, 1],
    [2.5, 2, 1.5, 1, .5, .5, .5, 1, 2, 7, 13, 20, 27, 30, 32, 32, 27, 19, 11, 6, 4, 3, 2, 1],
    [2.5, 2, 1.5, 1, .5, .5, .5, 1, 2, 6, 12, 19, 25, 29, 30, 29, 26, 18, 10, 6, 3, 2, 2, .5],
    [2, 1.5, 1, .5, .5, .5, .5, 1, 2, 5, 8, 11, 14, 17, 20, 19, 16, 14, 12, 8, 4, 2, 1, .5],
  ],
];

const AUG: number[][][] = [
  [
    [1, .5, 0, 0, 0, .3, 1, 3, 7, 10, 14, 23, 30, 32, 26, 25, 23, 24, 12, 6, 4, 3, 2, 1],
    [1, .5, 0, 0, 0, .3, 1, 3, 7, 10, 14, 22, 29, 30, 24, 23, 22, 23, 12, 6, 4, 3, 2, 1],
    [1, .5, 0, 0, 0, .3, 1, 3, 7, 10, 14, 21, 26, 27, 25, 23, 21, 22, 11, 6, 4, 3, 2, 1],
    [1, .5, 0, 0, 0, .3, 1, 3, 7, 10, 14, 22, 28, 30, 22, 22, 19, 22, 11, 6, 4, 3, 2, 1],
  ],
  [
    [1, .5, 0, 0, 0, .3, 1, 3, 7, 10, 14, 23, 31, 35, 27, 27, 26, 26, 13, 6, 4, 3, 2, 1],
    [1, .5, 0, 0, 0, .3, 1, 3, 7, 10, 14, 22, 29, 31, 25, 24, 23, 24, 12, 6, 4, 3, 2, 1],
    [1, .5, 0, 0, 0, .3, 1, 3, 7, 10, 14, 22, 28, 30, 24, 21, 20, 22, 12, 6, 4, 3, 2, 1],
  ],
  [
    [1, .5, 0, 0, 0, .3, 1, 3, 7, 10, 14, 23, 30, 33, 26, 28, 23, 26, 13, 6, 4, 3, 2, 1],
    [1, .5, 0, 0, 0, .3, 1, 3, 7, 10, 14, 22, 29, 30, 23, 22, 22, 25, 12, 6, 4, 3, 2, 1],
    [1, .5, 0, 0, 0, .3, 1, 3, 7, 10, 14, 22, 28, 29, 22, 21, 22, 24, 12, 6, 4, 3, 2, 1],
  ],
  [
    [1, .5, 0, 0, 0, .3, 1, 3, 7, 10, 14, 23, 31, 34, 27, 25, 26, 30, 14, 6, 4, 3, 2, 1],
    [1, .5, 0, 0, 0, .3, 1, 3, 7, 10, 14, 22, 29, 31, 25, 23, 24, 28, 13, 6, 4, 3, 2, 1],
    [1, .5, 0, 0, 0, .3, 1, 3, 7, 10, 14, 22, 28, 29, 24, 23, 24, 27, 13, 6, 4, 3, 2, 1],
    [1, .5, 0, 0, 0, .3, 1, 3, 7, 9, 13, 18, 21, 20, 21, 17, 22, 26, 12, 6, 4, 3, 2, 1],
    [1, .5, 0, 0, 0, .3, 1, 3, 7, 10, 13, 20, 24, 25, 23, 22, 23, 27, 13, 6, 4, 3, 2, 1],
  ],
  [
    [1, .5, 0, 0, 0, .3, 1, 3, 8, 11, 16, 27, 35, 39, 31, 30, 32, 36, 25, 13, 9, 7, 5, 3],
    [1, .5, 0, 0, 0, .3, 1, 3, 8, 11, 15, 25, 33, 34, 28, 27, 30, 35, 24, 13, 8, 6, 4, 3],
    [1, .5, 0, 0, 0, .3, 1, 3, 8, 11, 15, 24, 30, 31, 25, 25, 28, 33, 22, 12, 8, 6, 4, 3],
    [1, .5, 0, 0, 0, .3, 1, 3, 8, 11, 15, 25, 32, 33, 30, 31, 35, 42, 30, 22, 16, 10, 6, 4],
  ],
  [
    [3, 2, 1, .5, .3, .3, .5, 1, 3, 8, 16, 25, 31, 35, 36, 35, 31, 25, 17, 11, 7, 5, 4, 3],
    [3, 2, 1, .5, .3, .3, .5, 1, 3, 8, 15, 24, 30, 33, 34, 34, 30, 23, 16, 10, 7, 5, 4, 3],
    [2.5, 1.5, 1, .5, .3, .3, .5, 1, 3, 7, 14, 22, 28, 31, 33, 33, 29, 22, 15, 10, 6, 5, 4, 3],
    [3, 2, 1, .5, .3, .3, .5, 1, 3, 8, 15, 23, 28, 17, 33, 35, 30, 23, 16, 10, 7, 5, 4, 3],
  ],
  [
    [3, 2, 1.5, 1, .5, .5, .5, 1, 2, 7, 13, 21, 28, 31, 33, 32, 27, 19, 11, 6, 4, 3, 2, 1],
    [2.5, 2, 1.5, 1, .5, .5, .5, 1, 2, 7, 13, 20, 26, 29, 31, 31, 26, 18, 11, 6, 4, 3, 2, 1],
    [2.5, 2, 1.5, 1, .5, .5, .5, 1, 2, 6, 12, 19, 24, 27, 28, 29, 25, 17, 10, 6, 3, 2, 2, .5],
  ],
];

const SEP: number[][][] = [
  [
    [1, .5, 0, 0, 0, .3, 1, 3, 8, 11, 15, 25, 35, 38, 30, 29, 28, 29, 15, 6, 5, 3, 2, 1],
    [1, .5, 0, 0, 0, .3, 1, 3, 8, 10, 15, 24, 33, 36, 28, 26, 25, 26, 14, 6, 4, 3, 2, 1],
    [1, .5, 0, 0, 0, .3, 1, 3, 7, 10, 14, 23, 31, 33, 26, 24, 22, 23, 13, 6, 4, 3, 2, 1],
    [1, .5, 0, 0, 0, .3, 1, 3, 7, 10, 14, 22, 29, 32, 24, 17, 18, 20, 12, 6, 4, 3, 2, 1],
    [1, .5, 0, 0, 0, .3, 1, 3, 7, 10, 14, 23, 31, 34, 27, 25, 24, 19, 12, 6, 4, 3, 2, 1],
  ],
  [
    [1, .5, 0, 0, 0, .3, 1, 3, 8, 11, 15, 25, 34, 37, 30, 29, 28, 29, 15, 6, 5, 3, 2, 1],
    [1, .5, 0, 0, 0, .3, 1, 3, 8, 10, 14, 23, 32, 35, 28, 26, 26, 28, 14, 6, 4, 3, 2, 1],
    [1, 1.5, 1.5, 0, 0, .3, 1, 3, 7, 10, 14, 22, 29, 31, 24, 21, 20, 24, 13, 6, 4, 3, 2, 1],
    [1, .5, 0, 0, 0, .3, 1, 3, 7, 10, 14, 22, 27, 28, 26, 23, 22, 25, 13, 6, 4, 3, 2, 1],
  ],
  [
    [1, .5, 0, 0, 0, .3, 1, 3, 8, 11, 15, 25, 35, 39, 31, 30, 30, 31, 16, 7, 5, 3, 2, 1],
    [1, .5, 0, 0, 0, .3, 1, 3, 8, 10, 14, 23, 32, 35, 28, 26, 26, 28, 14, 6, 4, 3, 2, 1],
    [1, .5, 0, 0, 0, .3, 1, 3, 7, 10, 14, 22, 30, 32, 25, 22, 21, 24, 13, 6, 4, 3, 2, 1],
  ],
  [
    [1, .5, 0, 0, 0, .3, 1, 3, 8, 11, 15, 25, 33, 36, 28, 26, 27, 31, 15, 6, 5, 3, 2, 1],
    [1, .5, 0, 0, 0, .3, 1, 3, 8, 10, 14, 23, 30, 32, 26, 25, 26, 29, 14, 6, 4, 3, 2, 1],
    [1, .5, 0, 0, 0, .3, 1, 3, 7, 10, 14, 22, 28, 30, 9, 24, 25, 28, 13, 6, 4, 3, 2, 1],
    [1, .5, 0, 0, 0, .3, 1, 3, 7, 10, 14, 22, 29, 30, 25, 21, 23, 27, 13, 6, 4, 3, 2, 1],
  ],
  [
    [1, .5, 0, 0, 0, .3, 1, 3, 8, 11, 16, 28, 38, 43, 33, 31, 33, 37, 26, 14, 9, 7, 5, 4],
    [1, .5, 0, 0, 0, .3, 1, 3, 8, 11, 16, 27, 35, 36, 30, 29, 31, 36, 25, 13, 9, 7, 5, 3],
    [1, .5, 0, 0, 0, .3, 1, 3, 8, 11, 15, 25, 32, 33, 26, 24, 28, 34, 24, 12, 8, 6, 4, 3],
  ],
  [
    [3, 2, 1, .5, .3, .3, .5, 1, 3, 8, 15, 24, 30, 34, 36, 35, 31, 25, 17, 11, 7, 5, 4, 3],
    [3, 2, 1, .5, .3, .3, .5, 1, 3, 8, 14, 23, 29, 32, 33, 33, 29, 23, 16, 10, 7, 5, 4, 3],
    [2.5, 1.5, 1, .5, .3, .3, .5, 1, 3, 7, 13, 21, 27, 30, 31, 31, 28, 22, 15, 10, 6, 5, 4, 3],
    [2.5, 1.5, 1, .5, .3, .3, .5, 1, 3, 7, 12, 17, 21, 22, 24, 24, 21, 18, 13, 9, 6, 4, 3, 3],
  ],
  [
    [3, 2, 1.5, 1, .5, .5, .5, 1, 2, 7, 13, 21, 27, 30, 31, 31, 27, 19, 11, 6, 4, 3, 2, 1],
    [2.5, 2, 1.5, 1, .5, .5, .5, 1, 2, 7, 12, 20, 25, 28, 29, 30, 26, 18, 11, 6, 4, 3, 2, 1],
    [2.5, 2, 1.5, 1, .5, .5, .5, 1, 2, 6, 11, 18, 23, 25, 26, 27, 24, 17, 10, 6, 3, 2, 2, .5],
  ],
];

const OCT: number[][][] = [
  [
    [1, .5, 0, 0, 0, .3, 1, 3, 8, 11, 15, 25, 35, 38, 28, 26, 26, 27, 14, 6, 5, 3, 2, 1],
    [1, .5, 0, 0, 0, .3, 1, 3, 8, 10, 14, 23, 30, 31, 25, 24, 23, 26, 13, 6, 4, 3, 2, 1],
    [1, .5, 0, 0, 0, .3, 1, 3, 7, 10, 14, 22, 28, 29, 22, 21, 21, 24, 12, 6, 4, 3, 2, 1],
    [1, .5, 0, 0, 0, .3, 1, 3, 9, 12, 15, 18, 21, 24, 25, 22, 18, 22, 12, 6, 4, 3, 2, 1],
    [1, .5, 0, 0, 0, .3, 1, 3, 8, 10, 14, 22, 28, 30, 24, 23, 27, 25, 13, 6, 4, 3, 2, 1],
  ],
  [
    [1, .5, 0, 0, 0, .3, 1, 3, 8, 11, 15, 24, 32, 34, 29, 27, 27, 28, 14, 6, 5, 3, 2, 1],
    [1, .5, 0, 0, 0, .3, 1, 3, 8, 10, 14, 23, 30, 32, 27, 25, 25, 27, 13, 6, 4, 3, 2, 1],
    [1, .5, 0, 0, 0, .3, 1, 3, 7, 10, 14, 22, 28, 30, 25, 23, 23, 26, 13, 6, 4, 3, 2, 1],
    [1, .5, 0, 0, 0, .3, 1, 3, 7, 10, 13, 20, 25, 27, 23, 21, 19, 21, 12, 6, 4, 3, 2, 1],
  ],
  [
    [1, .5, 0, 0, 0, .3, 1, 3, 8, 11, 15, 25, 34, 37, 30, 27, 27, 29, 15, 6, 5, 3, 2, 1],
    [1, .5, 0, 0, 0, .3, 1, 3, 8, 10, 14, 23, 32, 34, 28, 25, 25, 28, 14, 6, 4, 3, 2, 1],
    [1, .5, 0, 0, 0, .3, 1, 3, 7, 10, 14, 22, 29, 31, 25, 22, 23, 26, 13, 6, 4, 3, 2, 1],
    [1, .5, 0, 0, 0, .3, 1, 3, 7, 9, 12, 17, 22, 26, 24, 20, 21, 25, 13, 6, 4, 3, 2, 1],
  ],
  [
    [1, .5, 0, 0, 0, .3, 1, 3, 8, 11, 16, 27, 37, 43, 36, 35, 34, 39, 18, 7, 5, 3, 2, 1],
    [1, .5, 0, 0, 0, .3, 1, 3, 8, 11, 15, 25, 33, 35, 29, 28, 30, 33, 16, 7, 5, 3, 2, 1],
    [1, .5, 0, 0, 0, .3, 1, 3, 8, 10, 14, 23, 30, 32, 27, 25, 27, 31, 15, 6, 4, 3, 2, 1],
    [1, .5, 0, 0, 0, .3, 1, 3, 7, 10, 14, 22, 28, 30, 24, 22, 25, 28, 14, 6, 4, 3, 2, 1],
    [1, .5, 0, 0, 0, .3, 1, 3, 7, 10, 13, 19, 23, 25, 22, 19, 20, 21, 13, 6, 4, 3, 2, 1],
  ],
  [
    [1, .5, 0, 0, 0, .3, 1, 3, 8, 12, 17, 29, 40, 45, 34, 32, 35, 39, 27, 14, 9, 7, 5, 4],
    [1, .5, 0, 0, 0, .3, 1, 3, 8, 11, 16, 27, 36, 38, 31, 30, 32, 37, 25, 13, 9, 7, 5, 3],
    [1, .5, 0, 0, 0, .3, 1, 3, 8, 11, 15, 25, 33, 34, 29, 28, 30, 34, 24, 12, 8, 6, 4, 3],
    [1, .5, 0, 0, 0, .3, 1, 3, 8, 10, 14, 21, 25, 27, 24, 21, 19, 23, 19, 11, 8, 6, 4, 3],
    [1, .5, 0, 0, 0, .3, 1, 3, 7, 10, 13, 19, 23, 24, 23, 21, 20, 22, 18, 11, 7, 5, 4, 3],
  ],
  [
    [3, 2, 1, .5, .3, .3, .5, 1, 3, 8, 16, 25, 32, 36, 38, 39, 33, 25, 17, 11, 8, 6, 5, 4],
    [3, 2, 1, .5, .3, .3, .5, 1, 3, 8, 15, 24, 30, 33, 35, 34, 30, 24, 16, 10, 7, 5, 4, 3],
    [2.5, 1.5, 1, .5, .3, .3, .5, 1, 3, 7, 14, 22, 28, 31, 32, 32, 28, 22, 15, 10, 6, 5, 4, 3],
    [2.5, 1.5, 1, .5, .3, .3, .5, 1, 3, 7, 13, 20, 25, 27, 28, 27, 24, 20, 14, 9, 6, 5, 4, 3],
    [2, 1.5, 1, .5, .3, .3, .5, 1, 2, 5, 9, 13, 14, 17, 19, 18, 16, 13, 10, 8, 6, 4, 3, 2],
  ],
  [
    [3, 2, 1.5, 1, .5, .5, .5, 1, 2, 7, 13, 21, 27, 30, 31, 31, 27, 19, 11, 6, 4, 3, 2, 1],
    [2.5, 2, 1.5, 1, .5, .5, .5, 1, 2, 7, 12, 20, 25, 28, 29, 29, 26, 18, 11, 6, 4, 3, 2, 1],
    [2.5, 2, 1.5, 1, .5, .5, 2, 4, 4, 7, 12, 18, 23, 25, 26, 27, 24, 17, 10, 6, 3, 2, 2, .5],
    [2.5, 2, 1.5, 1, .5, .5, .5, 1, 2, 5, 9, 13, 16, 18, 19, 18, 16, 13, 9, 6, 3, 2, 1, .5],
  ],
];

const NOV: number[][][] = [
  [
    [1, .5, 0, 0, 0, .3, 1, 3, 8, 12, 20, 46, 52, 42, 33, 29, 27, 26, 15, 8, 5, 3, 2, 1],
    [1, .5, 0, 0, 0, .3, 1, 3, 8, 11, 17, 27, 36, 39, 34, 31, 29, 28, 16, 8, 5, 3, 2, 1],
    [1, .5, 0, 0, 0, .3, 1, 3, 7, 10, 15, 23, 30, 32, 28, 28, 29, 27, 15, 7, 5, 3, 2, 1],
    [1, .5, 0, 0, 0, .3, 1, 3, 7, 10, 14, 21, 26, 27, 26, 24, 21, 25, 14, 7, 0, 3, 2, 1],
    [1, .5, 0, 0, 0, .3, 1, 2, 6, 9, 13, 19, 24, 25, 22, 19, 18, 22, 13, 7, 5, 3, 2, 1],
    [1, .5, 0, 0, 0, .3, 1, 2, 5, 8, 12, 17, 21, 28, 26, 24, 23, 21, 13, 7, 5, 3, 2, 1],
  ],
  [
    [1, .5, 0, 0, 0, .3, 1, 3, 8, 11, 16, 26, 35, 40, 32, 29, 29, 31, 17, 8, 5, 3, 2, 1],
    [1, .5, 0, 0, 0, .3, 1, 3, 8, 11, 15, 24, 32, 35, 27, 27, 26, 28, 16, 8, 5, 3, 2, 1],
    [1, .5, 0, 0, 0, .3, 1, 3, 7, 10, 14, 22, 28, 30, 23, 22, 24, 27, 15, 7, 5, 3, 2, 1],
    [1, .5, 0, 0, 0, .3, 1, 3, 7, 10, 13, 19, 23, 24, 21, 20, 21, 23, 15, 8, 5, 4, 3, 2],
    [1, .5, 0, 0, 0, .3, 1, 2, 5, 7, 9, 11, 13, 14, 15, 16, 17, 15, 12, 8, 6, 4, 3, 2],
  ],
  [
    [1, .5, 0, 0, 0, .3, 1, 3, 8, 11, 15, 25, 34, 38, 29, 29, 28, 30, 16, 7, 5, 3, 2, 1],
    [1, .5, 0, 0, 0, .3, 1, 3, 8, 11, 15, 24, 32, 35, 28, 27, 27, 29, 15, 7, 5, 3, 2, 1],
    [1, .5, 0, 0, 0, .3, 1, 3, 7, 10, 14, 22, 28, 30, 26, 26, 25, 27, 14, 7, 4, 3, 2, 1],
    [1, .5, 0, 0, 0, .3, 1, 3, 7, 10, 14, 21, 25, 26, 21, 19, 18, 21, 13, 6, 4, 3, 2, 1],
  ],
  [
    [1, .5, 0, 0, 0, .3, 1, 3, 8, 11, 15, 25, 33, 36, 30, 30, 30, 32, 17, 7, 5, 3, 2, 1],
    [1, .5, 0, 0, 0, .3, 1, 3, 8, 10, 14, 23, 30, 32, 27, 26, 27, 29, 15, 7, 5, 3, 2, 1],
    [1, .5, 0, 0, 0, .3, 1, 3, 7, 10, 14, 22, 28, 29, 24, 22, 24, 27, 14, 7, 4, 3, 2, 1],
    [1, .5, 0, 0, 0, .3, 1, 3, 7, 10, 13, 19, 21, 22, 19, 17, 18, 22, 13, 6, 4, 3, 2, 1],
  ],
  [
    [1, .5, 0, 0, 0, .3, 1, 3, 8, 11, 16, 27, 36, 38, 31, 30, 33, 40, 27, 14, 9, 7, 5, 3],
    [1, .5, 0, 0, 0, .3, 1, 3, 8, 11, 15, 25, 33, 34, 29, 29, 31, 36, 25, 13, 9, 7, 5, 3],
    [1, .5, 0, 0, 0, .3, 1, 3, 8, 11, 15, 24, 29, 31, 32, 31, 30, 30, 23, 12, 8, 6, 4, 3],
    [1, .5, 0, 0, 0, .3, 1, 3, 7, 10, 14, 21, 25, 25, 22, 19, 24, 27, 20, 11, 8, 6, 4, 3],
    [1, .5, 0, 0, 0, .3, 1, 3, 7, 10, 14, 21, 24, 26, 27, 26, 25, 24, 19, 11, 8, 6, 4, 2],
  ],
  [
    [3, 2, 1, .5, .3, .3, .5, 1, 3, 9, 18, 28, 39, 45, 44, 37, 30, 24, 17, 11, 7, 5, 4, 3],
    [3, 2, 1, .5, .3, .3, .5, 1, 3, 8, 15, 24, 31, 35, 38, 38, 32, 25, 17, 11, 7, 5, 4, 3],
    [2.5, 1.5, 1, .5, .3, .3, .5, 1, 3, 7, 14, 22, 28, 31, 33, 33, 29, 22, 15, 10, 6, 5, 4, 3],
    [2.5, 1.5, 1, .5, .3, .3, .5, 1, 3, 7, 12, 19, 25, 28, 29, 29, 26, 21, 14, 9, 6, 4, 3, 2],
    [2, 1.5, 1, .5, .3, .3, .5, 1, 2, 6, 10, 15, 19, 20, 22, 21, 20, 17, 13, 9, 6, 4, 3, 2],
  ],
  [
    [3.5, 3, 2, 1, .5, .5, .5, 1, 2, 7, 14, 22, 29, 34, 35, 36, 29, 20, 12, 7, 4, 3, 2, 1],
    [3, 2, 1.5, 1, .5, .5, .5, 1, 2, 7, 13, 21, 27, 30, 32, 32, 27, 19, 11, 6, 4, 3, 2, 1],
    [3, 2, 1.5, 1, .5, .5, .5, 1, 2, 6, 12, 18, 23, 26, 28, 27, 24, 17, 10, 6, 3, 2, 2, .5],
    [2.5, 2, 1.5, 1, .5, .5, .5, 1, 2, 5, 10, 14, 17, 18, 19, 19, 17, 14, 9, 6, 3, 2, 1, .5],
  ],
];

const DEC: number[][][] = [
  [
    [1.5, 1, .5, 0, 0, .3, .5, 3, 8, 14, 21, 30, 38, 46, 45, 47, 48, 46, 37, 27, 23, 18, 13, 8],
    [1.5, 1, .5, 0, 0, .3, .5, 3, 8, 13, 19, 28, 38, 42, 37, 36, 35, 34, 26, 17, 14, 10, 6, 2],
    [1.5, 1, .5, 0, 0, .3, .5, 3, 7, 12, 18, 27, 35, 38, 38, 40, 35, 32, 24, 15, 12, 8, 5, 2],
    [1.5, 1, .5, 0, 0, .3, .5, 2, 7, 12, 18, 27, 37, 35, 30, 28, 26, 27, 20, 14, 10, 7, 4, 2],
    [1, .5, 0, 0, 0, .3, .5, 2, 6, 11, 15, 20, 25, 27, 27, 24, 21, 23, 18, 12, 6, 4, 3, 1.5],
    [1, .5, 0, 0, 0, .3, .5, 2, 6, 10, 15, 20, 23, 25, 18, 21, 20, 22, 18, 13, 10, 7, 4, 2],
  ],
  [
    [1, .5, 0, 0, 0, .3, .5, 3, 8, 13, 20, 30, 42, 52, 47, 44, 41, 39, 30, 22, 20, 17, 13, 9],
    [1, .5, 0, 0, 0, .3, .5, 3, 8, 13, 20, 29, 38, 44, 36, 35, 33, 36, 27, 19, 15, 11, 7, 4],
    [1, .5, 0, 0, 0, .3, .5, 3, 8, 12, 18, 27, 33, 36, 33, 34, 34, 31, 25, 18, 14, 10, 6, 3],
    [1, .5, 0, 0, 0, .3, .5, 2, 7, 11, 16, 23, 29, 31, 29, 25, 27, 24, 20, 15, 12, 8, 5, 2],
    [1, .5, 0, 0, 0, .3, .5, 2, 6, 10, 15, 21, 25, 27, 21, 18, 19, 21, 19, 16, 13, 9, 6, 3],
  ],
  [
    [1, .5, 0, 0, 0, .3, .5, 3, 8, 12, 18, 28, 39, 45, 37, 36, 35, 39, 26, 16, 12, 8, 5, 2],
    [1, .5, 0, 0, 0, .3, .5, 3, 7, 12, 18, 27, 34, 37, 33, 33, 34, 32, 25, 16, 12, 8, 5, 2],
    [1, .5, 0, 0, 0, .3, .5, 2, 7, 11, 16, 24, 29, 31, 30, 27, 29, 29, 24, 18, 15, 13, 8, 4],
    [3, 2, 1, 0, 0, .3, .5, 2, 6, 10, 15, 21, 25, 27, 25, 23, 24, 25, 22, 16, 14, 21, 12, 5],
    [1, .5, 0, 0, 0, .3, .5, 2, 6, 9, 13, 17, 19, 19, 19, 17, 17, 19, 17, 14, 11, 7, 4, 1],
  ],
  [
    [7, 4, 1, .5, 1, 3.6, 8, 13, 19, 26, 33, 41, 50, 50, 54, 53, 47, 41, 34, 28, 22, 17, 12, 7],
    [1, .5, 0, 0, 0, .3, .5, 3, 8, 13, 20, 30, 38, 43, 37, 35, 33, 34, 26, 18, 14, 10, 6, 3],
    [1, .5, 0, 0, 0, .3, .5, 3, 7, 12, 18, 27, 33, 36, 34, 32, 30, 31, 24, 17, 13, 9, 6, 3],
    [1, .5, 0, 0, 0, .3, .5, 2, 7, 11, 16, 23, 27, 29, 28, 26, 25, 27, 21, 15, 12, 8, 5, 2],
    [1, .5, 0, 0, 0, .3, .5, 2, 6, 10, 14, 19, 19, 20, 24, 22, 21, 20, 17, 14, 10, 7, 4, 1],
  ],
  [
    [1, .5, 0, 0, 0, .3, .5, 3, 8, 13, 20, 31, 41, 45, 46, 45, 44, 44, 34, 21, 15, 11, 8, 5],
    [1, .5, 0, 0, 0, .3, .5, 3, 8, 13, 19, 29, 40, 40, 37, 34, 38, 40, 30, 20, 15, 11, 7, 4],
    [1, .5, 0, 0, 0, .3, .5, 2, 7, 12, 17, 25, 29, 28, 21, 20, 26, 28, 24, 17, 13, 9, 6, 3],
    [1, .5, 0, 0, 0, .3, .5, 2, 6, 10, 15, 22, 27, 28, 25, 26, 26, 27, 22, 16, 12, 9, 6, 3],
    [1, .5, 0, 0, 0, .3, .3, 1, 3, 5, 7, 9, 10, 11, 11, 10, 9, 10, 9, 8, 6, 4, 3, 2],
  ],
  [
    [3, 2, 1, .5, .3, .3, .5, 1, 3, 9, 18, 28, 36, 41, 42, 43, 36, 28, 20, 13, 9, 7, 5, 4],
    [3, 2, 1, .5, .3, .3, .5, 1, 3, 8, 14, 21, 26, 29, 30, 30, 28, 24, 20, 15, 12, 10, 11, 12],
    [2.5, 1.5, 1, .5, .3, .3, .5, 1, 3, 7, 13, 20, 24, 26, 27, 27, 25, 21, 17, 13, 10, 8, 6, 4],
    [2.5, 1.5, 1, .5, 2, 3, 4, 6, 9, 12, 15, 18, 20, 21, 22, 21, 20, 18, 15, 12, 9, 7, 5, 3],
    [2, 1.5, 1, .5, .3, .3, .5, 1, 3, 7, 12, 15, 17, 16, 14, 14, 14, 13, 13, 12, 9, 6, 4, 3],
  ],
  [
    [3, 2, 1.5, 1, .5, .5, .5, 1, 2, 8, 15, 24, 33, 39, 42, 39, 32, 22, 13, 7, 4, 3, 2, 1],
    [3, 2, 1.5, 1, .5, .5, .5, 1, 2, 8, 14, 23, 31, 37, 38, 37, 31, 21, 12, 7, 4, 3, 2, 1],
    [2.5, 2, 1.5, 1, .5, .5, .5, 1, 2, 6, 11, 16, 21, 24, 28, 28, 25, 24, 16, 10, 7, 5, 4, 3],
    [2.5, 2, 1.5, 1, .5, .5, .5, 1, 2, 6, 11, 15, 17, 22, 25, 23, 21, 19, 14, 9, 6, 4, 3, 2],
    [2, 1.5, 1, .5, .5, .5, .5, 1, 2, 5, 10, 14, 15, 17, 22, 20, 18, 15, 11, 8, 6, 4, 5, 3],
  ],
];

const MONTH_DATA = [JAN, FEB, MAR, APR, MAY, JUN, JUL, AUG, SEP, OCT, NOV, DEC];

const FONT = '"Liberation Sans", Arial, Helvetica, sans-serif';
const PANEL_W = 269;
const PANEL_H = 202;
const PANEL_LEFT = 94;
const PANEL_TOP = 80;
const COL_STEP = 281.5;
const ROW_STEP = 214;
const Y_AXIS_W = 94;
const X_AXIS_H = 40;
const X_DOMAIN = [-1.15, 24.15];
const Y_DOMAIN = [-2.7, 56.6];

const colLeft = (c: number) => Math.round(PANEL_LEFT + c * COL_STEP);
const rowTop = (r: number) => PANEL_TOP + r * ROW_STEP;

function Panel({ lines, showX, showY }: { lines: number[][]; showX: boolean; showY: boolean }) {
  const data = HOURS.map((h, i) => {
    const row: Record<string, number> = { hour: h };
    lines.forEach((line, k) => {
      row[`d${k}`] = line[i];
    });
    return row;
  });
  return (
    <LineChart
      width={PANEL_W + (showY ? Y_AXIS_W : 0)}
      height={PANEL_H + (showX ? X_AXIS_H : 0)}
      data={data}
      margin={{ top: 0, right: 0, bottom: 0, left: 0 }}
    >
      <CartesianGrid
        fill="#EBEBEB"
        stroke="#FFFFFF"
        strokeWidth={1.1}
        horizontalValues={Y_MINOR}
        verticalValues={X_MINOR}
      />
      <CartesianGrid stroke="#FFFFFF" strokeWidth={2.2} horizontalValues={Y_TICKS} verticalValues={X_TICKS} />
      <XAxis
        type="number"
        dataKey="hour"
        domain={X_DOMAIN}
        ticks={X_TICKS}
        interval={0}
        allowDataOverflow
        hide={!showX}
        height={X_AXIS_H}
        axisLine={false}
        tickLine={{ stroke: '#333333', strokeWidth: 1.5 }}
        tickSize={6}
        tickMargin={3}
        tick={{ fill: '#4D4D4D', fontSize: 18 }}
      />
      <YAxis
        type="number"
        domain={Y_DOMAIN}
        ticks={Y_TICKS}
        interval={0}
        allowDataOverflow
        hide={!showY}
        width={Y_AXIS_W}
        axisLine={false}
        tickLine={{ stroke: '#333333', strokeWidth: 1.5 }}
        tickSize={6}
        tickMargin={6}
        tick={{ fill: '#4D4D4D', fontSize: 18 }}
        tickFormatter={(v: number) => String(Math.round(v * 100))}
      />
      {lines.map((_, k) => (
        <Line
          key={k}
          type="linear"
          dataKey={`d${k}`}
          stroke="#000000"
          strokeWidth={2.1}
          dot={false}
          isAnimationActive={false}
        />
      ))}
    </LineChart>
  );
}

export default function App() {
  return (
    <div
      style={{
        position: 'absolute',
        left: 0,
        top: 0,
        width: 2100,
        height: 2700,
        background: '#FFFFFF',
        fontFamily: FONT,
      }}
    >
      <div
        style={{
          position: 'absolute',
          left: PANEL_LEFT,
          width: colLeft(6) + PANEL_W - PANEL_LEFT,
          top: 11,
          fontSize: 27,
          lineHeight: '27px',
          textAlign: 'center',
          color: '#000000',
        }}
      >
        Counts by hour separately by month and day
      </div>

      {DAYS.map((d, c) => (
        <div
          key={d}
          style={{
            position: 'absolute',
            left: colLeft(c),
            top: 44,
            width: PANEL_W,
            height: 36,
            background: '#D9D9D9',
            color: '#1A1A1A',
            fontSize: 18,
            lineHeight: '36px',
            textAlign: 'center',
          }}
        >
          {d}
        </div>
      ))}

      {MONTHS.map((m, r) => (
        <div
          key={m}
          style={{
            position: 'absolute',
            left: colLeft(6) + PANEL_W + 2,
            top: rowTop(r),
            width: 35,
            height: PANEL_H,
            background: '#D9D9D9',
            color: '#1A1A1A',
            fontSize: 18,
            display: 'flex',
            alignItems: 'center',
            justifyContent: 'center',
          }}
        >
          <span style={{ writingMode: 'vertical-rl' }}>{m}</span>
        </div>
      ))}

      {MONTH_DATA.map((panels, r) =>
        panels.map((lines, c) => (
          <div
            key={`${r}-${c}`}
            style={{
              position: 'absolute',
              left: colLeft(c) - (c === 0 ? Y_AXIS_W : 0),
              top: rowTop(r),
            }}
          >
            <Panel lines={lines} showX={r === MONTHS.length - 1} showY={c === 0} />
          </div>
        )),
      )}

      <div
        style={{
          position: 'absolute',
          left: PANEL_LEFT,
          width: colLeft(6) + PANEL_W - PANEL_LEFT,
          top: 2666,
          fontSize: 22,
          lineHeight: '22px',
          textAlign: 'center',
          color: '#000000',
        }}
      >
        Hour
      </div>
      <div
        style={{
          position: 'absolute',
          left: 14,
          top: rowTop(0),
          width: 24,
          height: rowTop(11) + PANEL_H - rowTop(0),
          display: 'flex',
          alignItems: 'center',
          justifyContent: 'center',
          fontSize: 22,
          color: '#000000',
        }}
      >
        <span style={{ writingMode: 'vertical-rl', transform: 'rotate(180deg)' }}>Count</span>
      </div>
    </div>
  );
}
